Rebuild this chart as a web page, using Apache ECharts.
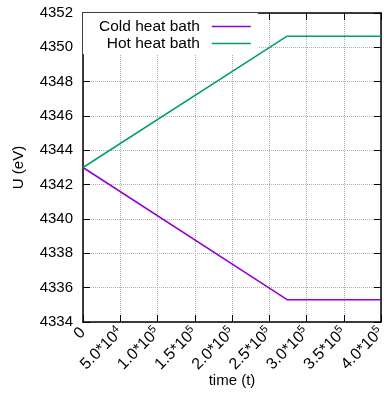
<!DOCTYPE html>
<html>
<head>
<meta charset="utf-8">
<script src="https://cdn.jsdelivr.net/npm/echarts@6/dist/echarts.min.js"></script>
<style>
  html, body { margin: 0; padding: 0; background: #fff; }
  #chart { width: 384px; height: 395px; }
</style>
</head>
<body>
<div id="chart"></div>
<script>
// Internal energy of the two heat baths over time
const timeValues = [0, 274000, 400000];
const coldBath = [4343, 4335.3, 4335.3];
const hotBath = [4343, 4350.65, 4350.65];
const seriesNames = ['Cold heat bath', 'Hot heat bath'];
const xTitle = 'time (t)';

// x tick labels as mantissa / power-of-ten pairs
const xTickLabels = [
  ['0', ''], ['5.0', '4'], ['1.0', '5'], ['1.5', '5'], ['2.0', '5'],
  ['2.5', '5'], ['3.0', '5'], ['3.5', '5'], ['4.0', '5']
];
const xTickStep = 50000;
const yMin = 4334, yMax = 4352, yStep = 2;

const FONT = '"Liberation Sans", Arial, Helvetica, sans-serif';
const chart = echarts.init(document.getElementById('chart'));

function xLabel(v) {
  const idx = Math.round(v / xTickStep);
  const t = xTickLabels[idx];
  if (!t) return '';
  if (!t[1]) return '{b|' + t[0] + '}';
  return '{b|' + t[0] + '*10}{s|' + t[1] + '}';
}

const tickStyle = { show: true, inside: true, length: 7, lineStyle: { color: '#000', width: 1 } };
const borderLine = { show: true, onZero: false, lineStyle: { color: '#000', width: 1.5 } };
const gridLine = { show: true, lineStyle: { color: '#b0b0b0', type: [1, 1], width: 1 } };

const pairs = (ys) => timeValues.map((t, i) => [t, ys[i]]);

chart.setOption({
  animation: false,
  backgroundColor: '#fff',
  textStyle: { fontFamily: FONT },
  // x-axis title, centred under the plot area
  title: {
    text: xTitle,
    left: 232,
    bottom: 7,
    textAlign: 'center',
    padding: 0,
    textStyle: { fontSize: 15, fontWeight: 'normal', color: '#000', fontFamily: FONT }
  },
  grid: { left: 83, right: 3, top: 13, bottom: 73, containLabel: false, outerBoundsMode: 'none' },
  legend: {
    orient: 'vertical',
    left: 83,
    top: 13,
    align: 'right',
    icon: 'rect',
    itemWidth: 39,
    itemHeight: 1.5,
    itemGap: 0,
    backgroundColor: '#fff',
    padding: [5, 7, 2, 16],
    textStyle: { fontSize: 15.5, lineHeight: 17, color: '#000', fontFamily: FONT, padding: [0, 7, 0, 0] },
    data: seriesNames
  },
  xAxis: [{
    type: 'value',
    min: 0, max: 400000, interval: xTickStep,
    position: 'bottom',
    axisLine: borderLine,
    axisTick: tickStyle,
    splitLine: gridLine,
    axisLabel: {
      rotate: 45,
      margin: 8,
      formatter: xLabel,
      color: '#000',
      rich: {
        b: { fontSize: 16, fontFamily: FONT, color: '#000' },
        s: { fontSize: 11, fontFamily: FONT, color: '#000', verticalAlign: 'top', padding: [0, 0, 8, 0] }
      }
    }
  }, {
    type: 'value',
    min: 0, max: 400000, interval: xTickStep,
    position: 'top',
    axisLine: borderLine,
    axisTick: tickStyle,
    axisLabel: { show: false },
    splitLine: { show: false }
  }],
  yAxis: [{
    type: 'value',
    min: yMin, max: yMax, interval: yStep,
    position: 'left',
    name: 'U (eV)',
    nameLocation: 'middle',
    nameGap: 57,
    nameMoveOverlap: false,
    nameRotate: 90,
    nameTextStyle: { fontSize: 15, color: '#000', fontFamily: FONT },
    axisLine: borderLine,
    axisTick: tickStyle,
    splitLine: gridLine,
    axisLabel: { fontSize: 15, color: '#000', margin: 10, fontFamily: FONT, formatter: (v) => String(v) }
  }, {
    type: 'value',
    min: yMin, max: yMax, interval: yStep,
    position: 'right',
    axisLine: borderLine,
    axisTick: tickStyle,
    axisLabel: { show: false },
    splitLine: { show: false }
  }],
  series: [{
    name: seriesNames[0],
    type: 'line',
    data: pairs(coldBath),
    showSymbol: false,
    lineStyle: { color: '#9400d3', width: 1.5 },
    itemStyle: { color: '#9400d3' },
    z: 3
  }, {
    name: seriesNames[1],
    type: 'line',
    data: pairs(hotBath),
    showSymbol: false,
    lineStyle: { color: '#009e73', width: 1.5 },
    itemStyle: { color: '#009e73' },
    z: 3
  }]
});
</script>
</body>
</html>
